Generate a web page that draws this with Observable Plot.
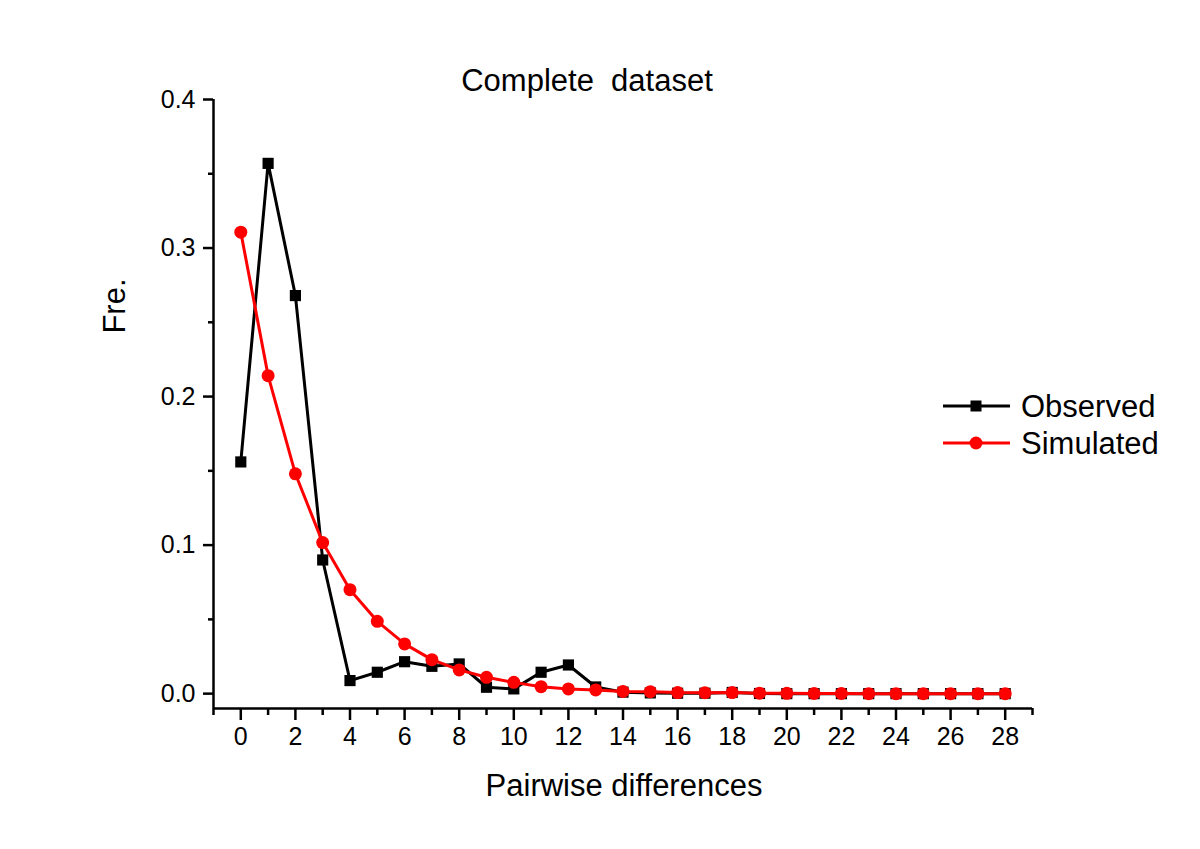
<!DOCTYPE html>
<html>
<head>
<meta charset="utf-8">
<script src="https://cdn.jsdelivr.net/npm/d3@7"></script>
<script src="https://cdn.jsdelivr.net/npm/@observablehq/plot@0.6"></script>
<style>
  html, body { margin: 0; padding: 0; background: #fff; }
  #wrap { position: relative; width: 1200px; height: 849px; font-family: "Liberation Sans", Arial, sans-serif; color: #000; }
  .lbl { position: absolute; white-space: pre; font-size: 31px; line-height: 1; }
</style>
</head>
<body>
<div id="wrap"></div>
<script>
// ---- data ----
const title = "Complete  dataset";
const xLabel = "Pairwise differences";
const yLabel = "Fre.";
const seriesNames = ["Observed", "Simulated"];
const seriesColors = ["#000000", "#ff0000"];

const differences = [0,1,2,3,4,5,6,7,8,9,10,11,12,13,14,15,16,17,18,19,20,21,22,23,24,25,26,27,28];
const observed = [0.156,0.357,0.268,0.090,0.0088,0.0144,0.0215,0.0184,0.0200,0.0043,0.0032,0.0144,0.0193,0.0045,0.0010,0.0005,0.0003,0.0003,0.0008,0.0001,0,0,0,0,0,0,0,0,0];
const simulated = [0.3107,0.2141,0.148,0.1017,0.0700,0.0487,0.0335,0.0229,0.0160,0.0110,0.0076,0.0047,0.0032,0.0025,0.0015,0.0013,0.0007,0.0006,0.0007,0.0003,0.0002,0.0001,0.0001,0,0,0,0,0,0];

const xDomain = [-1, 29];
const yDomain = [-0.01, 0.4];
const xMajorTicks = [0,2,4,6,8,10,12,14,16,18,20,22,24,26,28];
const xMinorTicks = [-1,1,3,5,7,9,11,13,15,17,19,21,23,25,27,29];
const yMajorTicks = [0, 0.1, 0.2, 0.3, 0.4];
const yTickLabels = ["0.0", "0.1", "0.2", "0.3", "0.4"];
const yMinorTicks = [0.05, 0.15, 0.25, 0.35];

// ---- build ----
const obsData = differences.map((d, i) => ({x: d, y: observed[i]}));
const simData = differences.map((d, i) => ({x: d, y: simulated[i]}));
const FONT = "'Liberation Sans', Arial, sans-serif";

const chart = Plot.plot({
  width: 1200,
  height: 849,
  marginLeft: 213,
  marginRight: 168,
  marginTop: 99,
  marginBottom: 141,
  style: {fontFamily: FONT, background: "white", color: "black"},
  x: {domain: xDomain},
  y: {domain: yDomain},
  marks: [
    Plot.axisX({ticks: xMajorTicks, tickSize: 12, tickPadding: 7, fontSize: 25, strokeWidth: 2.5, label: null, tickFormat: d => String(d)}),
    Plot.axisX({ticks: xMinorTicks, tickSize: 7, strokeWidth: 2.5, label: null, tickFormat: () => ""}),
    Plot.axisY({ticks: yMajorTicks, tickSize: 10, tickPadding: 8, fontSize: 25, strokeWidth: 2.5, label: null, tickFormat: (d) => yTickLabels[yMajorTicks.indexOf(d)]}),
    Plot.axisY({ticks: yMinorTicks, tickSize: 5, strokeWidth: 2.5, label: null, tickFormat: () => ""}),
    Plot.ruleX([xDomain[0]], {stroke: "black", strokeWidth: 2.5}),
    Plot.ruleY([yDomain[0]], {stroke: "black", strokeWidth: 2.5}),
    Plot.line(obsData, {x: "x", y: "y", stroke: seriesColors[0], strokeWidth: 3}),
    Plot.dot(obsData, {x: "x", y: "y", symbol: "square", r: 6.3, fill: seriesColors[0], stroke: "none"}),
    Plot.line(simData, {x: "x", y: "y", stroke: seriesColors[1], strokeWidth: 3}),
    Plot.dot(simData, {x: "x", y: "y", symbol: "circle", r: 6.5, fill: seriesColors[1], stroke: "none"})
  ]
});

const wrap = document.getElementById("wrap");
wrap.appendChild(chart);

function addLabel(text, css) {
  const d = document.createElement("div");
  d.className = "lbl";
  d.textContent = text;
  Object.assign(d.style, css);
  wrap.appendChild(d);
  return d;
}
// title
addLabel(title, {left: "587px", top: "65px", transform: "translateX(-50%)"});
// x label
addLabel(xLabel, {left: "624px", top: "770px", transform: "translateX(-50%)"});
// y label (rotated)
addLabel(yLabel, {left: "114px", top: "306px", transform: "translate(-50%, -50%) rotate(-90deg)"});

// legend
const legend = d3.select(wrap).append("svg")
  .attr("width", 240).attr("height", 90)
  .style("position", "absolute").style("left", "935px").style("top", "385px")
  .style("overflow", "visible");
seriesNames.forEach((name, i) => {
  const cy = 21 + i * 37;
  const g = legend.append("g");
  g.append("line").attr("x1", 8).attr("x2", 75).attr("y1", cy).attr("y2", cy)
    .attr("stroke", seriesColors[i]).attr("stroke-width", 3);
  if (i === 0) {
    g.append("rect").attr("x", 41 - 5.5).attr("y", cy - 5.5).attr("width", 11).attr("height", 11).attr("fill", seriesColors[i]);
  } else {
    g.append("circle").attr("cx", 41).attr("cy", cy).attr("r", 6.5).attr("fill", seriesColors[i]);
  }
  g.append("text").attr("x", 86).attr("y", cy).attr("dy", "0.36em")
    .attr("font-family", FONT).attr("font-size", 31).attr("fill", "black").text(name);
});
</script>
</body>
</html>
